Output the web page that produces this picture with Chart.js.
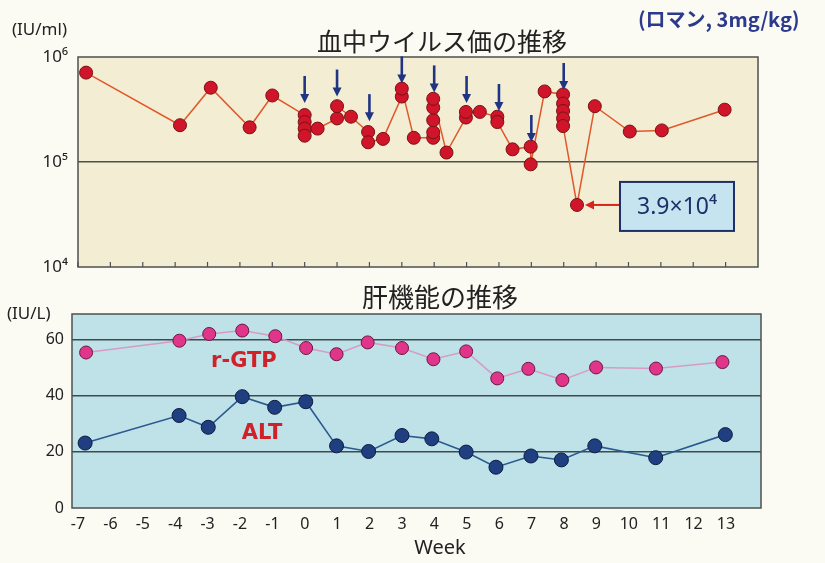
<!DOCTYPE html>
<html>
<head>
<meta charset="utf-8">
<script src="https://cdn.jsdelivr.net/npm/chart.js@4/dist/chart.umd.min.js"></script>
<style>
  body { margin: 0; background: #fbfaf3; }
  #wrap { position: relative; width: 825px; height: 563px; }
  canvas { position: absolute; left: 0; }
</style>
</head>
<body>
<div id="wrap">
  <canvas id="virusChart" width="825" height="280" style="top:0"></canvas>
  <canvas id="liverChart" width="825" height="283" style="top:280px"></canvas>
</div>
<script>
// ---- data ----
var weekTicks = [-7, -6, -5, -4, -3, -2, -1, 0, 1, 2, 3, 4, 5, 6, 7, 8, 9, 10, 11, 12, 13]

// viral load (IU/ml), several draws on the dosing weeks
var hcvWeek = [-6.75, -3.85, -2.9, -1.7, -1.0,
  0, 0, 0, 0, 0.4, 1, 1, 1.43, 1.96, 1.96, 2.42, 3, 3, 3.37,
  3.97, 3.97, 3.97, 3.97, 3.97, 4.38, 4.98, 4.98, 5.41, 5.95, 5.95, 6.42,
  6.98, 6.98, 7.41, 7.98, 7.98, 7.98, 7.98, 7.98, 8.41, 8.96, 10.04, 11.03, 12.97]
var hcvLoad = [7.1e5, 2.24e5, 5.1e5, 2.14e5, 4.3e5,
  2.8e5, 2.4e5, 2.08e5, 1.78e5, 2.08e5, 2.6e5, 3.4e5, 2.7e5, 1.93e5, 1.54e5, 1.66e5, 4.2e5, 5.0e5, 1.7e5,
  1.7e5, 1.92e5, 2.5e5, 3.3e5, 4.0e5, 1.23e5, 2.65e5, 3.0e5, 3.0e5, 2.7e5, 2.4e5, 1.32e5,
  1.4e5, 0.95e5, 4.7e5, 4.4e5, 3.6e5, 3.06e5, 2.6e5, 2.2e5, 3.9e4, 3.4e5, 1.95e5, 2.0e5, 3.15e5]

// dosing arrows (tip sits just above the cluster)
var doseWeek = [0, 1, 2, 3, 4, 5, 6, 7, 8]
var doseTip = [3.65e5, 4.2e5, 2.45e5, 5.6e5, 4.6e5, 3.65e5, 3.06e5, 1.55e5, 4.85e5]

// lowest value call-out
var lowWeek = 8.41
var lowLoad = 3.9e4
var lowText = '3.9×10⁴'

// liver function (IU/L)
var gtpWeek = [-6.75, -3.87, -2.95, -1.93, -0.91, 0.04, 0.98, 1.94, 3.0, 3.97, 4.98, 5.94, 6.9, 7.95, 8.99, 10.84, 12.89]
var gtpVal = [55.3, 59.5, 61.9, 63.1, 61.1, 56.9, 54.7, 58.9, 56.9, 52.9, 55.7, 46.1, 49.5, 45.5, 50.0, 49.6, 51.9]
var altWeek = [-6.78, -3.88, -2.98, -1.93, -0.93, 0.03, 0.98, 1.97, 3.0, 3.92, 4.98, 5.9, 6.98, 7.92, 8.95, 10.83, 12.98]
var altVal = [23.1, 32.9, 28.7, 39.6, 35.8, 37.8, 22.1, 20.1, 25.8, 24.6, 19.9, 14.5, 18.5, 17.1, 22.1, 17.9, 26.1]

var logTicks = [1e4, 1e5, 1e6]
var logLabels = { 10000: '10⁴', 100000: '10⁵', 1000000: '10⁶' }
var liverTicks = [0, 20, 40, 60]

function pts(xs, ys) {
  return xs.map(function (x, i) { return { x: x, y: ys[i] } })
}

var numFont = '"Noto Sans", sans-serif'
var jpFont = '"Noto Sans CJK JP", sans-serif'

// plot background + frame
var panelPlugin = {
  id: 'panel',
  beforeDatasetsDraw: function (chart, args, opts) {
    var a = chart.chartArea, ctx = chart.ctx
    ctx.save()
    ctx.globalCompositeOperation = 'destination-over'
    ctx.fillStyle = opts.bg
    ctx.fillRect(a.left, a.top, a.right - a.left, a.bottom - a.top)
    ctx.restore()
  },
  afterDatasetsDraw: function (chart) {
    var a = chart.chartArea, ctx = chart.ctx
    ctx.save()
    ctx.strokeStyle = '#4d5050'
    ctx.lineWidth = 1.5
    ctx.strokeRect(a.left, a.top, a.right - a.left, a.bottom - a.top)
    ctx.restore()
  }
}

function arrowHead(ctx, x, y, dx, dy, size) {
  // tip at (x,y), pointing along (dx,dy)
  var nx = -dy, ny = dx
  ctx.beginPath()
  ctx.moveTo(x, y)
  ctx.lineTo(x - dx * size + nx * size * 0.5, y - dy * size + ny * size * 0.5)
  ctx.lineTo(x - dx * size - nx * size * 0.5, y - dy * size - ny * size * 0.5)
  ctx.closePath()
  ctx.fill()
}

//-------------
//- VIRAL LOAD -
//-------------
var virusExtras = {
  id: 'virusExtras',
  afterDraw: function (chart) {
    var ctx = chart.ctx, xs = chart.scales.x, ys = chart.scales.y, a = chart.chartArea
    ctx.save()
    // tick marks inside the bottom edge
    ctx.strokeStyle = '#4d5050'
    ctx.lineWidth = 1.2
    weekTicks.forEach(function (w) {
      var px = xs.getPixelForValue(w)
      ctx.beginPath(); ctx.moveTo(px, a.bottom); ctx.lineTo(px, a.bottom - 5); ctx.stroke()
    })
    // dose arrows
    ctx.strokeStyle = '#1f3584'
    ctx.fillStyle = '#1f3584'
    ctx.lineWidth = 2.6
    doseWeek.forEach(function (w, i) {
      var px = xs.getPixelForValue(w), py = ys.getPixelForValue(doseTip[i])
      ctx.beginPath(); ctx.moveTo(px, py - 27); ctx.lineTo(px, py - 7); ctx.stroke()
      arrowHead(ctx, px, py, 0, 1, 9)
    })
    // call-out box for the lowest value
    var lx = xs.getPixelForValue(lowWeek), ly = ys.getPixelForValue(lowLoad)
    var bx = lx + 43, by = ly - 23, bw = 114, bh = 49
    ctx.strokeStyle = '#d8241f'; ctx.fillStyle = '#d8241f'; ctx.lineWidth = 2
    ctx.beginPath(); ctx.moveTo(bx, ly); ctx.lineTo(lx + 14, ly); ctx.stroke()
    arrowHead(ctx, lx + 8, ly, -1, 0, 9)
    ctx.fillStyle = '#c5e4ef'
    ctx.fillRect(bx, by, bw, bh)
    ctx.strokeStyle = '#1f2f6a'; ctx.lineWidth = 2
    ctx.strokeRect(bx, by, bw, bh)
    ctx.fillStyle = '#1f2f6a'
    ctx.font = '23px ' + numFont
    ctx.textAlign = 'center'; ctx.textBaseline = 'middle'
    ctx.fillText(lowText, bx + bw / 2, by + bh / 2 + 1)
    // titles
    ctx.fillStyle = '#222'
    ctx.font = '25px ' + jpFont
    ctx.fillText('血中ウイルス価の推移', 442, 41)
    ctx.font = '17px ' + numFont
    ctx.textAlign = 'left'
    ctx.fillText('(IU/ml)', 12, 30)
    ctx.fillStyle = '#2b3a8c'
    ctx.font = '600 20px ' + jpFont
    ctx.fillText('(ロマン, 3mg/kg)', 638, 19)
    ctx.restore()
  }
}

new Chart(document.getElementById('virusChart').getContext('2d'), {
  type: 'line',
  data: {
    datasets: [{
      data: pts(hcvWeek, hcvLoad),
      borderColor: '#e0582a',
      borderWidth: 1.5,
      pointBackgroundColor: '#d0152b',
      pointBorderColor: '#7a1212',
      pointBorderWidth: 1,
      pointRadius: 6.5,
      tension: 0
    }]
  },
  options: {
    responsive: false,
    animation: false,
    layout: { padding: { top: 57, right: 67, left: 0, bottom: 13 } },
    plugins: { legend: { display: false }, tooltip: { enabled: false }, panel: { bg: '#f2edd3' } },
    scales: {
      x: { type: 'linear', min: -7, max: 14, display: false },
      y: {
        type: 'logarithmic', min: 1e4, max: 1e6,
        afterBuildTicks: function (s) { s.ticks = logTicks.map(function (v) { return { value: v } }) },
        afterFit: function (s) { s.width = 78; s.paddingTop = 0; s.paddingBottom = 0 },
        border: { display: false },
        grid: {
          drawTicks: false,
          color: function (c) { return c.tick && c.tick.value === 1e5 ? '#4d5050' : 'rgba(0,0,0,0)' },
          lineWidth: 1.5
        },
        ticks: {
          padding: 10,
          color: '#222',
          font: { size: 17, family: numFont },
          callback: function (v) { return logLabels[v] }
        }
      }
    }
  },
  plugins: [panelPlugin, virusExtras]
})

//-------------
//- LIVER FUNCTION -
//-------------
var liverExtras = {
  id: 'liverExtras',
  afterDraw: function (chart) {
    var ctx = chart.ctx, xs = chart.scales.x, ys = chart.scales.y
    ctx.save()
    ctx.textAlign = 'center'; ctx.textBaseline = 'middle'
    ctx.fillStyle = '#d0202a'
    ctx.font = 'bold 21px "DejaVu Sans", sans-serif'
    ctx.fillText('r-GTP', xs.getPixelForValue(-1.88), ys.getPixelForValue(52.2))
    ctx.fillText('ALT', xs.getPixelForValue(-1.32), ys.getPixelForValue(26.4))
    ctx.fillStyle = '#222'
    ctx.font = '26px ' + jpFont
    ctx.fillText('肝機能の推移', 440, 17)
    ctx.font = '20px ' + numFont
    ctx.fillText('Week', 440, 268)
    ctx.font = '17px ' + numFont
    ctx.textAlign = 'left'
    ctx.fillText('(IU/L)', 7, 34)
    ctx.restore()
  }
}

new Chart(document.getElementById('liverChart').getContext('2d'), {
  type: 'line',
  data: {
    datasets: [{
      label: 'r-GTP',
      data: pts(gtpWeek, gtpVal),
      borderColor: '#d79cc6',
      borderWidth: 1.5,
      pointBackgroundColor: '#e0358a',
      pointBorderColor: '#6a1a40',
      pointBorderWidth: 1,
      pointRadius: 6.5,
      tension: 0
    }, {
      label: 'ALT',
      data: pts(altWeek, altVal),
      borderColor: '#2a5a8e',
      borderWidth: 1.6,
      pointBackgroundColor: '#1f3f80',
      pointBorderColor: '#0d1d40',
      pointBorderWidth: 1,
      pointRadius: 7,
      tension: 0
    }]
  },
  options: {
    responsive: false,
    animation: false,
    layout: { padding: { top: 34, right: 64, left: 0, bottom: 0 } },
    plugins: { legend: { display: false }, tooltip: { enabled: false }, panel: { bg: '#bfe1e8' } },
    scales: {
      x: {
        type: 'linear', min: -7.185, max: 14.08,
        afterBuildTicks: function (s) { s.ticks = weekTicks.map(function (v) { return { value: v } }) },
        afterFit: function (s) { s.height = 55 },
        border: { display: false },
        grid: { display: false, drawTicks: false },
        ticks: { padding: 7, color: '#222', font: { size: 16, family: numFont }, maxRotation: 0, autoSkip: false }
      },
      y: {
        min: 0, max: 69,
        afterBuildTicks: function (s) { s.ticks = liverTicks.map(function (v) { return { value: v } }) },
        afterFit: function (s) { s.width = 72 },
        border: { display: false },
        grid: {
          drawTicks: false,
          color: function (c) { return c.tick && c.tick.value > 0 ? '#3d4a4e' : 'rgba(0,0,0,0)' },
          lineWidth: 1.5
        },
        ticks: { padding: 8, color: '#222', font: { size: 16, family: numFont } }
      }
    }
  },
  plugins: [panelPlugin, liverExtras]
})
</script>
</body>
</html>
